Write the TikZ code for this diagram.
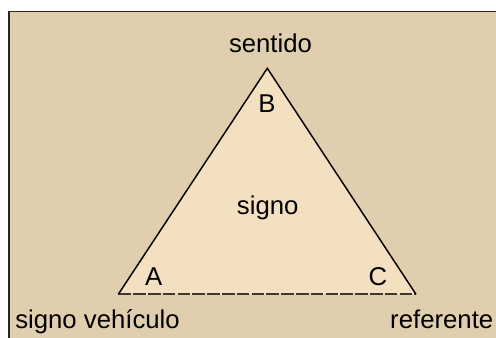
\documentclass[tikz,border=0pt]{standalone}
\usepackage{fontspec}
\setmainfont{Liberation Sans}
\definecolor{bgtan}{RGB}{224,207,174}
\definecolor{tri}{RGB}{243,224,192}
\definecolor{dashgray}{RGB}{60,56,50}
\begin{document}
\begin{tikzpicture}[x=0.75pt,y=-0.75pt,
  lbl/.style={inner sep=0pt,font=\fontsize{19.3pt}{22pt}\selectfont,anchor=base},
  side/.style={draw=black,line width=1.1pt,line join=miter},
  basedash/.style={draw=dashgray,line width=1.5pt,dash pattern=on 9.5pt off 1.6pt}]
\useasboundingbox (0,0) rectangle (496,338);
\fill[white] (0,0) rectangle (496,338);
\filldraw[fill=bgtan,draw=black!85,line width=1.3pt] (9,11.5) rectangle (510,350);
\coordinate (A) at (118.3,294.3);
\coordinate (B) at (267.3,68.3);
\coordinate (C) at (416,294.3);
\fill[tri] (A) -- (B) -- (C) -- cycle;
\draw[basedash] (A) -- (C);
\draw[side] (A) -- (B) -- (C);
\node[lbl] (sentido) at (270.5,53) {sentido};
\node[lbl] (lB) at (267,113) {B};
\node[lbl] (signo) at (267.7,215) {signo};
\node[lbl] (lA) at (153.7,285.7) {A};
\node[lbl] (lC) at (378,286) {C};
\node[lbl,anchor=base west] (sv) at (15,328) {signo vehículo};
\node[lbl,anchor=base east] (ref) at (493.5,328) {referente};
\end{tikzpicture}
\end{document}
